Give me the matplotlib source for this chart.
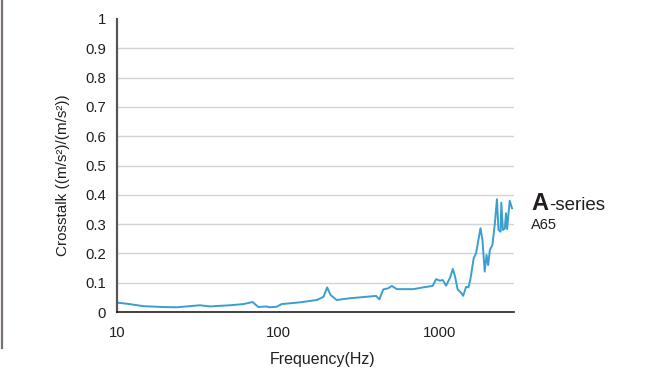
import matplotlib
matplotlib.use("Agg")
import matplotlib.pyplot as plt
from matplotlib.lines import Line2D

plt.rcParams['font.family'] = ['Liberation Sans', 'DejaVu Sans']

# Crosstalk response of the A65 accelerometer
freq_hz = [10, 12.0, 14.5, 19.3, 23.4, 32.6, 37.6, 50, 60.6, 69.1, 75, 83.8, 88, 97.5,
           104.5, 136, 173, 190, 200, 210, 229, 277, 352, 402, 421, 445, 478, 503,
           541, 683, 786, 900, 945, 999, 1040, 1090, 1155, 1200, 1240, 1285, 1350,
           1390, 1450, 1500, 1545, 1615, 1670, 1780, 1830, 1890, 1940, 1985, 2035,
           2110, 2185, 2250, 2300, 2370, 2395, 2450, 2520, 2560, 2600, 2700, 2790]
crosstalk = [0.032, 0.027, 0.020, 0.017, 0.016, 0.023, 0.019, 0.023, 0.027, 0.034,
             0.017, 0.019, 0.016, 0.018, 0.027, 0.033, 0.041, 0.052, 0.084, 0.058,
             0.041, 0.047, 0.052, 0.055, 0.043, 0.077, 0.081, 0.089, 0.078, 0.078,
             0.084, 0.089, 0.112, 0.107, 0.109, 0.090, 0.118, 0.147, 0.120, 0.077,
             0.066, 0.055, 0.086, 0.084, 0.115, 0.183, 0.200, 0.286, 0.246, 0.138,
             0.195, 0.160, 0.212, 0.229, 0.303, 0.385, 0.280, 0.274, 0.373, 0.280,
             0.285, 0.337, 0.283, 0.380, 0.354]

y_ticks = [0, 0.1, 0.2, 0.3, 0.4, 0.5, 0.6, 0.7, 0.8, 0.9, 1]
y_tick_labels = ['0', '0.1', '0.2', '0.3', '0.4', '0.5', '0.6', '0.7', '0.8', '0.9', '1']
x_ticks = [10, 100, 1000]
x_tick_labels = ['10', '100', '1000']

W, H = 647, 372
fig = plt.figure(figsize=(W / 100, H / 100), dpi=100)
ax = fig.add_axes([117 / W, 1 - 312 / H, (514 - 117) / W, (312 - 19) / H])

ax.plot(freq_hz, crosstalk, color='#3a9fd0', lw=1.4)

ax.set_xscale('log')
ax.set_xlim(10, 2870)
ax.set_ylim(0, 1)
ax.set_yticks(y_ticks)
ax.set_yticklabels(y_tick_labels)
ax.set_xticks(x_ticks)
ax.set_xticklabels(x_tick_labels)
ax.minorticks_off()
ax.tick_params(length=0, labelsize=10.7, colors='#231f20')
ax.tick_params(axis='y', pad=8)
ax.tick_params(axis='x', pad=10)

for v in y_ticks[1:-1]:
    ax.axhline(v, color='#d4d4d4', lw=1.0, zorder=0)

for s in ['top', 'right']:
    ax.spines[s].set_visible(False)
ax.spines['left'].set_color('#5a5555')
ax.spines['left'].set_linewidth(1.6)
ax.spines['bottom'].set_color('#231f20')
ax.spines['bottom'].set_linewidth(1.2)

ax.set_ylabel('Crosstalk ((m/s²)/(m/s²))', fontsize=11, color='#231f20')
ax.yaxis.set_label_coords(-0.118, 0.466)
ax.set_xlabel('Frequency(Hz)', fontsize=11.5, color='#231f20', labelpad=6)
ax.xaxis.set_label_coords(0.519, -0.135)

# Series name and model
fig.text(531 / W, 1 - 210 / H, 'A', fontsize=17, fontweight='bold', color='#231f20')
fig.text(549 / W, 1 - 210 / H, '-series', fontsize=13.5, color='#231f20')
fig.text(531 / W, 1 - 229 / H, 'A65', fontsize=10.5, color='#231f20')

# Vertical rule at the left edge
fig.add_artist(Line2D([2 / W, 2 / W], [1, 1 - 348 / H], transform=fig.transFigure,
                      color='#7a7272', lw=1.6))

fig.savefig('out.png', dpi=100)
